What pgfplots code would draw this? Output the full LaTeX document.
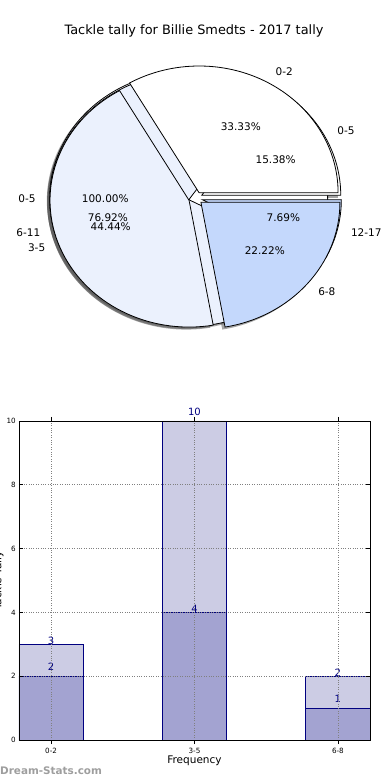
\documentclass[border=0pt]{standalone}
\usepackage{pgfplots}
\pgfplotsset{compat=1.18}
\usepackage{pgfplotstable}
\usepackage{fontspec}
\setmainfont{DejaVu Sans}
\definecolor{pie0}{HTML}{FFFFFF}
\definecolor{pie1}{HTML}{EBF1FD}
\definecolor{pie2}{HTML}{C4D8FC}
\definecolor{barL}{HTML}{CCCCE4}
\definecolor{barD}{HTML}{A3A3D1}
\definecolor{navy}{HTML}{000080}

% three pies overlaid (drawn C, B, A; A on top)
\pgfplotstableread{
label value
0-5 1
}\pieC
\pgfplotstableread{
label value
0-5 2
6-11 10
12-17 1
}\pieB
\pgfplotstableread{
label value
0-2 3
3-5 4
6-8 2
}\pieA

\newcommand\pief{\fontsize{10.5}{12}\selectfont}
\def\rx{139pt}
\def\ry{126.7pt}

% #1 table, #2 mode: 0 shadow, 1 wedge, 2 labels
\newcommand\drawpie[2]{%
  \xdef\pietotal{0}%
  \pgfplotstableforeachcolumnelement{value}\of#1\as\pv{%
    \pgfmathparse{\pietotal+\pv}\xdef\pietotal{\pgfmathresult}}%
  \xdef\pieangle{0}%
  \pgfplotstableforeachcolumnelement{value}\of#1\as\pv{%
    \edef\rowidx{\pgfplotstablerow}%
    \pgfmathsetmacro\aone{\pieangle}%
    \pgfmathsetmacro\atwo{\pieangle+360*\pv/\pietotal}%
    \xdef\pieangle{\atwo}%
    \pgfmathsetmacro\amid{(\aone+\atwo)/2}%
    \pgfmathsetmacro\ox{0.05*cos(\amid)}%
    \pgfmathsetmacro\oy{0.05*sin(\amid)}%
    \pgfmathsetmacro\isfull{(\pv==\pietotal)?1:0}%
    \ifcase#2
      \pgfmathsetmacro\cx{\ox-0.02}\pgfmathsetmacro\cy{\oy-0.02}%
      \pgfmathsetmacro\sx{\cx+cos(\aone)}\pgfmathsetmacro\sy{\cy+sin(\aone)}%
      \ifdim\isfull pt>0.5pt
        \fill[black!70, opacity=0.5] (axis cs:\cx,\cy) ellipse[x radius=\rx, y radius=\ry];
      \else
        \fill[black!70, opacity=0.5] (axis cs:\cx,\cy) -- (axis cs:\sx,\sy) arc[start angle=\aone, end angle=\atwo, x radius=\rx, y radius=\ry] -- cycle;
      \fi
    \or
      \pgfmathsetmacro\sx{\ox+cos(\aone)}\pgfmathsetmacro\sy{\oy+sin(\aone)}%
      \ifdim\isfull pt>0.5pt
        \filldraw[fill=pie\rowidx, draw=black, line width=0.8pt] (axis cs:\ox,\oy) ellipse[x radius=\rx, y radius=\ry];
      \else
        \filldraw[fill=pie\rowidx, draw=black, line width=0.8pt, line join=miter] (axis cs:\ox,\oy) -- (axis cs:\sx,\sy) arc[start angle=\aone, end angle=\atwo, x radius=\rx, y radius=\ry] -- cycle;
      \fi
    \or
      \pgfplotstablegetelem{\rowidx}{label}\of#1\edef\plabel{\pgfplotsretval}%
      \pgfmathsetmacro\lx{\ox+1.1*cos(\amid)}\pgfmathsetmacro\ly{\oy+1.1*sin(\amid)}%
      \pgfmathsetmacro\px{\ox+0.6*cos(\amid)}\pgfmathsetmacro\py{\oy+0.6*sin(\amid)}%
      \pgfmathsetmacro\pct{100*\pv/\pietotal}%
      \ifdim\lx pt>0pt
        \node[anchor=west, inner sep=0pt, font=\pief] at (axis cs:\lx,\ly) {\plabel};
      \else
        \node[anchor=east, inner sep=0pt, font=\pief] at (axis cs:\lx,\ly) {\plabel};
      \fi
      \node[inner sep=0pt, font=\pief] at (axis cs:\px,\py) {\pgfmathprintnumber[fixed, fixed zerofill, precision=2, assume math mode=true]{\pct}\%};
    \fi
  }%
}

\newcommand\lab{\fontsize{10}{12}\selectfont}

\begin{document}
\begin{tikzpicture}

% title
\node[anchor=base, inner sep=0pt, font=\fontsize{12.9}{15}\selectfont] at (194pt,745.5pt) {Tackle tally for Billie Smedts - 2017 tally};

% pie chart
\begin{axis}[at={(195.6pt,581.8pt)}, anchor=origin, x=139pt, y=126.7pt,
  xmin=-1.45, xmax=1.45, ymin=-1.2, ymax=1.2, hide axis, clip=false]
\pgfplotsextra{%
  \drawpie{\pieC}{0}\drawpie{\pieB}{0}\drawpie{\pieA}{0}%
  \drawpie{\pieC}{1}\drawpie{\pieB}{1}\drawpie{\pieA}{1}%
  \drawpie{\pieC}{2}\drawpie{\pieB}{2}\drawpie{\pieA}{2}%
}
\end{axis}

% bar chart
\begin{axis}[at={(19pt,40pt)}, anchor=south west, scale only axis, width=351pt, height=319pt,
  xmin=-0.224, xmax=2.224, ymin=0, ymax=10,
  xtick={0,1,2}, xticklabels={0-2,3-5,6-8}, ytick={0,2,4,6,8,10},
  tick align=inside, major tick length=4pt, tick style={black, line width=0.6pt},
  grid=major, grid style={dotted, black!50, line width=0.6pt},
  axis on top, axis line style={line width=0.9pt},
  ticklabel style={font=\fontsize{7.2}{8}\selectfont},
  /pgf/number format/assume math mode=true,
  xticklabel style={inner sep=0pt, yshift=-3.5pt}, yticklabel style={inner sep=0pt, xshift=-3pt},
  ybar, bar width=0.448,
  xlabel={Frequency}, xlabel style={font=\fontsize{10.5}{12}\selectfont, inner sep=0pt, at={(axis description cs:0.5,0)}, anchor=north, yshift=-16pt},
  ylabel={Tackle Tally}, ylabel style={font=\fontsize{10.5}{12}\selectfont, inner sep=0pt, at={(axis description cs:-0.05,0.5)}, anchor=base},
  clip=false]
\addplot[fill=barL, draw=navy, line width=0.8pt, bar shift=0pt] coordinates {(0,3) (1,10) (2,2)};
\addplot[fill=barD, draw=navy, line width=0.8pt, bar shift=0pt] coordinates {(0,2) (1,4) (2,1)};
\node[navy, font=\lab, anchor=base, inner sep=0pt] at (axis cs:0,3) {3};
\node[navy, font=\lab, anchor=base, inner sep=0pt, yshift=5.8pt] at (axis cs:1,10) {10};
\node[navy, font=\lab, anchor=base, inner sep=0pt] at (axis cs:2,2) {2};
\node[navy, font=\lab, anchor=base, inner sep=0pt, yshift=5.8pt] at (axis cs:0,2) {2};
\node[navy, font=\lab, anchor=base, inner sep=0pt] at (axis cs:1,4) {4};
\node[navy, font=\lab, anchor=base, inner sep=0pt, yshift=5.8pt] at (axis cs:2,1) {1};
\end{axis}

% watermark
\node[anchor=west, inner sep=0pt, text=black!38, font=\fontsize{10.4}{12}\bfseries] at (0pt,9.5pt) {Dream-Stats.com};

\pgfresetboundingbox
\path[use as bounding box] (0pt,0pt) rectangle (390pt,780pt);
\end{tikzpicture}
\end{document}
